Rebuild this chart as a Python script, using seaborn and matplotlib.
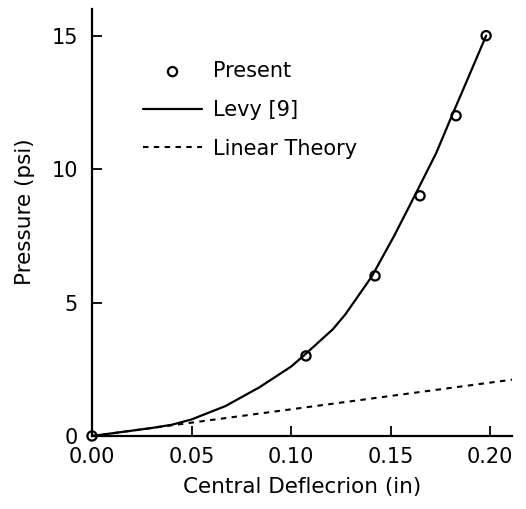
import numpy as np
import pandas as pd
import matplotlib
matplotlib.use("Agg")
import matplotlib.pyplot as plt
import seaborn as sns

# ---- data ----
present_x = [0.0, 0.1075, 0.1422, 0.1648, 0.1829, 0.198]
present_y = [0.0, 3.0, 6.0, 9.0, 12.0, 15.0]

levy_x = [0.0, 0.02, 0.03, 0.04, 0.05, 0.067, 0.084, 0.100, 0.1062, 0.121, 0.1272,
          0.1405, 0.1518, 0.1623, 0.1729, 0.1808, 0.190, 0.198]
levy_y = [0.0, 0.2, 0.3, 0.42, 0.62, 1.12, 1.82, 2.6, 3.0, 4.0, 4.55,
          5.97, 7.5, 9.03, 10.6, 12.0, 13.6, 15.0]

linear_x = [0.0, 0.211]
linear_y = [0.0, 2.11]

x_ticks = [0.00, 0.05, 0.10, 0.15, 0.20]
x_tick_labels = ["0.00", "0.05", "0.10", "0.15", "0.20"]
y_ticks = [0, 5, 10, 15]
y_tick_labels = ["0", "5", "10", "15"]

series_labels = ["Present", "Levy [9]", "Linear Theory"]
x_label = "Central Deflecrion (in)"
y_label = "Pressure (psi)"

# ---- plot ----
sns.set_style("ticks")
plt.rcParams['font.family'] = ['DejaVu Sans']
plt.rcParams['text.color'] = 'black'
plt.rcParams['axes.labelcolor'] = 'black'

fig = plt.figure(figsize=(5.26, 5.09), dpi=100)
ax = fig.add_axes([92/526, 1 - 436/509, 420/526, 427/509])

levy_df = pd.DataFrame({"x": levy_x, "y": levy_y})
lin_df = pd.DataFrame({"x": linear_x, "y": linear_y})
pres_df = pd.DataFrame({"x": present_x, "y": present_y})

sns.lineplot(data=levy_df, x="x", y="y", ax=ax, color="black", lw=1.6,
             sort=False, label=series_labels[1])
ax.lines[-1].set_solid_joinstyle("round")
sns.lineplot(data=lin_df, x="x", y="y", ax=ax, color="black", lw=1.5,
             sort=False, label=series_labels[2], dashes=False)
ax.lines[-1].set_dashes((2.6, 2.6))
sns.scatterplot(data=pres_df, x="x", y="y", ax=ax, marker="o", s=44,
                facecolor="none", edgecolor="black", linewidth=1.6,
                label=series_labels[0], zorder=5)
for coll in ax.collections:
    coll.set_clip_on(False)

ax.set_xlim(0, 0.211)
ax.set_ylim(0, 16)
ax.set_xticks(x_ticks)
ax.set_xticklabels(x_tick_labels)
ax.set_yticks(y_ticks)
ax.set_yticklabels(y_tick_labels)
ax.tick_params(direction="in", length=7, width=1.3, labelsize=15,
               colors="black", labelcolor="black")
ax.tick_params(axis="x", pad=8)
ax.tick_params(axis="y", pad=10)
for side in ["top", "right"]:
    ax.spines[side].set_visible(False)
for side in ["left", "bottom"]:
    ax.spines[side].set_linewidth(1.6)
    ax.spines[side].set_color("black")

ax.set_xlabel(x_label, fontsize=15.5, color="black")
ax.set_ylabel(y_label, fontsize=15.5, color="black")
ax.xaxis.set_label_coords(0.5, -(487 - 436) / 427, transform=ax.transAxes)
ax.yaxis.set_label_coords((25 - 92) / 420, (436 - 212) / 427, transform=ax.transAxes)
ax.xaxis.label.set_va("center")
ax.yaxis.label.set_va("center")

handles, labels = ax.get_legend_handles_labels()
order = [labels.index(l) for l in series_labels]
leg = ax.legend([handles[i] for i in order], [labels[i] for i in order],
                loc="upper left", bbox_to_anchor=(0.121, 0.878), frameon=False,
                fontsize=15, handlelength=2.85, handletextpad=0.5,
                labelspacing=0.9, borderpad=0, borderaxespad=0)
for t in leg.get_texts():
    t.set_color("black")

fig.savefig("out.png", dpi=100)
